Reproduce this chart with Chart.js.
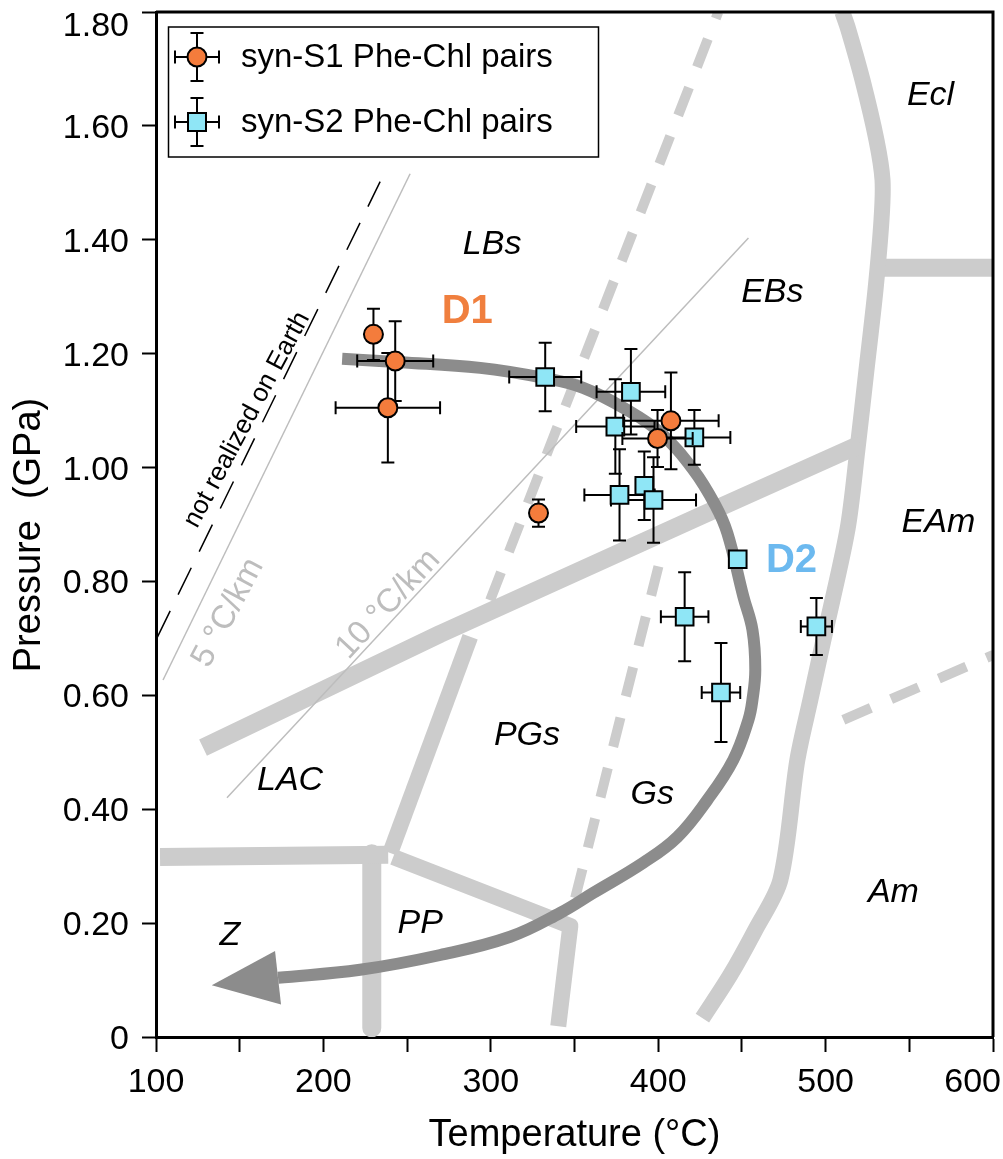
<!DOCTYPE html>
<html>
<head>
<meta charset="utf-8">
<script src="https://cdn.jsdelivr.net/npm/chart.js@4.4.0/dist/chart.umd.min.js"></script>
<style>
  html, body { margin: 0; padding: 0; background: #fff; }
  #wrap { width: 1003px; height: 1159px; }
</style>
</head>
<body>
<div id="wrap"><canvas id="chart" width="1003" height="1159"></canvas></div>
<script>
// syn-S1 Phe-Chl pairs (orange circles)
const s1Temp = [229.9, 242.9, 238.5, 328.5, 407.6, 399.6];
const s1Pres = [1.234, 1.187, 1.105, 0.920, 1.082, 1.051];
const s1TempErr = [0, 22.7, 31.2, 0, 28.5, 21];
const s1PresErr = [0.045, 0.07, 0.096, 0.024, 0.085, 0.05];

// syn-S2 Phe-Chl pairs (cyan squares)
const s2Temp = [332.5, 383.7, 374.4, 421.6, 376.9, 391.7, 397.2, 447.5, 415.8, 437.5, 494.5];
const s2Pres = [1.159, 1.133, 1.072, 1.053, 0.952, 0.968, 0.943, 0.839, 0.738, 0.605, 0.721];
const s2TempErr = [21.5, 20.5, 23.4, 21.5, 21, 5, 25.4, 0, 14.2, 11.5, 9.3];
const s2PresErr = [0.06, 0.075, 0.083, 0.048, 0.08, 0.06, 0.075, 0, 0.078, 0.087, 0.05];

// facies boundaries [T, P]
const boundaryA = [[128.1, 0.508], [269.8, 0.708], [425.2, 0.915], [520.8, 1.041]];
const boundaryB = [[102.4, 0.316], [238.7, 0.320]];
const boundaryC = [[228.9, 0.322], [228.9, 0.016]];
const boundaryD = [[239.9, 0.323], [287.7, 0.703]];
const boundaryE = [[241.7, 0.316], [347.5, 0.195], [340.3, 0.019]];
const boundaryF = [[426.4, 0.033], [443.1, 0.109], [458.0, 0.188], [473.0, 0.276], [483.1, 0.486],
  [490.9, 0.592], [498.7, 0.697], [513.0, 0.890], [519.0, 1.031], [524.4, 1.171], [529.8, 1.312],
  [533.4, 1.435], [534.0, 1.505], [530.4, 1.575], [522.0, 1.681], [513.6, 1.769], [510.0, 1.800]];
const boundaryG = [[534.0, 1.351], [600, 1.351]];
const dashedUpper = [[299.6, 0.767], [435.9, 1.800]];
const dashedLower = [[350.4, 0.244], [402.5, 0.854]];
const dashedRight = [[510.6, 0.557], [600.3, 0.671]];

// geotherms
const geotherm5 = [[104.2, 0.627], [251.8, 1.516]];
const geotherm10 = [[142.4, 0.420], [453.9, 1.403]];
const notEarth = [[100.6, 0.701], [233.9, 1.502]];

// P-T path with arrow
const ptPath = [[211.2, 1.191], [245.8, 1.185], [293.7, 1.175], [332.5, 1.157], [355.2, 1.140],
  [381.5, 1.101], [401.3, 1.061], [421.0, 0.996], [434.1, 0.934], [441.3, 0.885], [450.9, 0.773],
  [456.3, 0.715], [458.0, 0.645], [456.3, 0.592], [453.9, 0.557], [444.9, 0.487], [429.3, 0.416],
  [411.4, 0.351], [391.1, 0.306], [361.2, 0.253], [341.5, 0.218], [311.6, 0.176], [269.8, 0.144],
  [221.9, 0.118], [172.9, 0.104]];
const arrowTip = [133.3, 0.091];

// field labels
const fieldLabels = ['Ecl', 'LBs', 'EBs', 'EAm', 'PGs', 'LAC', 'Gs', 'Am', 'PP', 'Z'];
const fieldTemp = [562.7, 300.8, 468.2, 567.4, 321.6, 180.1, 396.5, 540.5, 257.8, 144.2];
const fieldPres = [1.654, 1.391, 1.308, 0.904, 0.530, 0.451, 0.425, 0.253, 0.200, 0.179];

const xTicks = [100, 200, 300, 400, 500, 600];
const yTicks = [0, 0.2, 0.4, 0.6, 0.8, 1.0, 1.2, 1.4, 1.6, 1.8];

const FONT = '"Liberation Sans", Arial, sans-serif';
const ORANGE = '#f47c3c';
const CYAN = '#8fe6f6';
const LIGHT = '#cccccc';

const pts = arr => arr.map(p => ({ x: p[0], y: p[1] }));

function lineSet(arr, width, color, opts) {
  return Object.assign({
    data: pts(arr), showLine: true, pointRadius: 0, borderColor: color,
    borderWidth: width, tension: 0, borderCapStyle: 'butt', borderJoinStyle: 'round', order: 5
  }, opts || {});
}

const datasets = [
  lineSet(boundaryA, 18, LIGHT),
  lineSet(boundaryB, 18, LIGHT),
  lineSet(boundaryC, 19, LIGHT),
  lineSet(boundaryD, 16, LIGHT),
  lineSet(boundaryE, 16, LIGHT),
  lineSet(boundaryF, 16, LIGHT, { tension: 0.3 }),
  lineSet(boundaryG, 18, LIGHT),
  lineSet(dashedUpper, 10, LIGHT, { borderDash: [30, 22] }),
  lineSet(dashedLower, 10, LIGHT, { borderDash: [30, 22] }),
  lineSet(dashedRight, 10, LIGHT, { borderDash: [30, 22] }),
  lineSet(geotherm5, 1.5, '#bdbdbd', { order: 4 }),
  lineSet(geotherm10, 1.5, '#bdbdbd', { order: 4 }),
  lineSet(notEarth, 1.5, '#000', { order: 4, borderDash: [30, 18] }),
  lineSet(ptPath, 12, '#8c8c8c', { order: 3, tension: 0.4 }),
  {
    label: 'syn-S2 Phe-Chl pairs',
    data: s2Temp.map((t, i) => ({ x: t, y: s2Pres[i] })),
    errT: s2TempErr, errP: s2PresErr,
    pointStyle: 'rect', pointRadius: 12.5, backgroundColor: CYAN,
    borderColor: '#000', borderWidth: 2, order: 2
  },
  {
    label: 'syn-S1 Phe-Chl pairs',
    data: s1Temp.map((t, i) => ({ x: t, y: s1Pres[i] })),
    errT: s1TempErr, errP: s1PresErr,
    pointStyle: 'circle', pointRadius: 9.5, backgroundColor: ORANGE,
    borderColor: '#000', borderWidth: 2, order: 1
  }
];

function errorBar(ctx, cx, cy, left, right, top, bottom) {
  const cap = 6.5;
  ctx.beginPath();
  if (right > left) {
    ctx.moveTo(left, cy); ctx.lineTo(right, cy);
    ctx.moveTo(left, cy - cap); ctx.lineTo(left, cy + cap);
    ctx.moveTo(right, cy - cap); ctx.lineTo(right, cy + cap);
  }
  if (bottom > top) {
    ctx.moveTo(cx, top); ctx.lineTo(cx, bottom);
    ctx.moveTo(cx - cap, top); ctx.lineTo(cx + cap, top);
    ctx.moveTo(cx - cap, bottom); ctx.lineTo(cx + cap, bottom);
  }
  ctx.stroke();
}

const overlay = {
  id: 'overlay',
  beforeDatasetDraw(chart, args) {
    const ds = chart.data.datasets[args.index];
    if (!ds.errT) return;
    const { x, y } = chart.scales;
    const ctx = chart.ctx;
    ctx.save();
    ctx.strokeStyle = '#000';
    ctx.lineWidth = 2;
    ds.data.forEach((p, i) => {
      errorBar(ctx, x.getPixelForValue(p.x), y.getPixelForValue(p.y),
        x.getPixelForValue(p.x - ds.errT[i]), x.getPixelForValue(p.x + ds.errT[i]),
        y.getPixelForValue(p.y + ds.errP[i]), y.getPixelForValue(p.y - ds.errP[i]));
    });
    ctx.restore();
  },
  afterDatasetsDraw(chart) {
    const { x, y } = chart.scales;
    const ctx = chart.ctx;
    // arrow head of the P-T path
    const last = ptPath[ptPath.length - 1];
    const bx = x.getPixelForValue(last[0]), by = y.getPixelForValue(last[1]);
    const tx = x.getPixelForValue(arrowTip[0]), ty = y.getPixelForValue(arrowTip[1]);
    const len = Math.hypot(tx - bx, ty - by);
    const nx = -(ty - by) / len, ny = (tx - bx) / len;
    ctx.save();
    ctx.fillStyle = '#8c8c8c';
    ctx.beginPath();
    ctx.moveTo(tx, ty);
    ctx.lineTo(bx + nx * 27, by + ny * 27);
    ctx.lineTo(bx - nx * 27, by - ny * 27);
    ctx.closePath();
    ctx.fill();
    ctx.restore();
  },
  afterDraw(chart) {
    const { x, y } = chart.scales;
    const ctx = chart.ctx;
    const area = chart.chartArea;
    ctx.save();

    // frame
    ctx.strokeStyle = '#000';
    ctx.lineWidth = 3;
    ctx.beginPath();
    ctx.moveTo(area.left, area.top); ctx.lineTo(area.right, area.top); ctx.lineTo(area.right, area.bottom);
    ctx.stroke();

    // tick labels
    ctx.fillStyle = '#000';
    ctx.font = '34px ' + FONT;
    ctx.textBaseline = 'alphabetic';
    xTicks.forEach(v => {
      const label = String(v);
      const half = ctx.measureText(label).width / 2;
      const px = Math.min(x.getPixelForValue(v), chart.width - 2 - half);
      ctx.textAlign = 'center';
      ctx.fillText(label, px, 1092);
    });
    ctx.textAlign = 'right';
    yTicks.forEach(v => {
      const py = y.getPixelForValue(v);
      const label = v === 0 ? '0' : v.toFixed(2);
      ctx.fillText(label, 129, v >= 1.79 ? 36 : py + 12);
    });

    // axis titles
    ctx.textAlign = 'center';
    ctx.font = '38px ' + FONT;
    ctx.fillText('Temperature (°C)', (area.left + area.right) / 2, 1146);
    ctx.save();
    ctx.translate(40, 535);
    ctx.rotate(-Math.PI / 2);
    ctx.font = '38px ' + FONT;
    ctx.fillText('Pressure  (GPa)', 0, 0);
    ctx.restore();

    // field names
    ctx.font = 'italic 34px ' + FONT;
    ctx.textBaseline = 'middle';
    fieldLabels.forEach((t, i) => {
      ctx.fillText(t, x.getPixelForValue(fieldTemp[i]), y.getPixelForValue(fieldPres[i]));
    });

    // deformation stages
    ctx.font = 'bold 40px ' + FONT;
    ctx.fillStyle = '#f07f3e';
    ctx.fillText('D1', x.getPixelForValue(285.9), y.getPixelForValue(1.273));
    ctx.fillStyle = '#6cb9ef';
    ctx.fillText('D2', x.getPixelForValue(479.6), y.getPixelForValue(0.836));

    // rotated geotherm labels
    const rotated = (text, t, p, deg, font, color) => {
      ctx.save();
      ctx.translate(x.getPixelForValue(t), y.getPixelForValue(p));
      ctx.rotate(deg * Math.PI / 180);
      ctx.font = font;
      ctx.fillStyle = color;
      ctx.fillText(text, 0, 0);
      ctx.restore();
    };
    rotated('5 °C/km', 143.0, 0.745, -62, '33px ' + FONT, '#bdbdbd');
    rotated('10 °C/km', 238.7, 0.760, -47, '33px ' + FONT, '#bdbdbd');
    rotated('not realized on Earth', 154.4, 1.084, -62, '26px ' + FONT, '#000');

    // legend
    ctx.lineWidth = 1.5;
    ctx.strokeStyle = '#000';
    ctx.strokeRect(168.5, 27, 430, 130);
    ctx.lineWidth = 2;
    errorBar(ctx, 197, 57, 175, 219, 33, 81);
    errorBar(ctx, 197, 122, 175, 219, 98, 146);
    ctx.fillStyle = ORANGE;
    ctx.beginPath(); ctx.arc(197, 57, 9.5, 0, Math.PI * 2); ctx.fill(); ctx.stroke();
    ctx.fillStyle = CYAN;
    ctx.fillRect(188, 113, 18, 18); ctx.strokeRect(188, 113, 18, 18);
    ctx.fillStyle = '#000';
    ctx.font = '33px ' + FONT;
    ctx.textAlign = 'left';
    ctx.textBaseline = 'middle';
    ctx.fillText(datasets[15].label, 241, 58);
    ctx.fillText(datasets[14].label, 241, 123);
    ctx.restore();
  }
};

new Chart(document.getElementById('chart'), {
  type: 'scatter',
  data: { datasets },
  plugins: [overlay],
  options: {
    responsive: false,
    animation: false,
    devicePixelRatio: 1,
    layout: { autoPadding: false, padding: { top: 12, right: 10, left: 0, bottom: 0 } },
    plugins: { legend: { display: false }, tooltip: { enabled: false } },
    scales: {
      x: {
        type: 'linear', min: 100, max: 600,
        ticks: { stepSize: 50, color: 'rgba(0,0,0,0)', font: { size: 34 } },
        grid: { drawOnChartArea: false, drawTicks: true, tickLength: 15, tickWidth: 2, tickColor: '#000' },
        border: { display: true, color: '#000', width: 3 },
        afterFit: s => { s.height = 122; s.paddingLeft = 0; s.paddingRight = 0; }
      },
      y: {
        type: 'linear', min: 0, max: 1.8,
        ticks: { stepSize: 0.2, color: 'rgba(0,0,0,0)', font: { size: 34 } },
        grid: { drawOnChartArea: false, drawTicks: true, tickLength: 14, tickWidth: 2, tickColor: '#000' },
        border: { display: true, color: '#000', width: 3 },
        afterFit: s => { s.width = 156; s.paddingTop = 0; s.paddingBottom = 0; }
      }
    }
  }
});
</script>
</body>
</html>
